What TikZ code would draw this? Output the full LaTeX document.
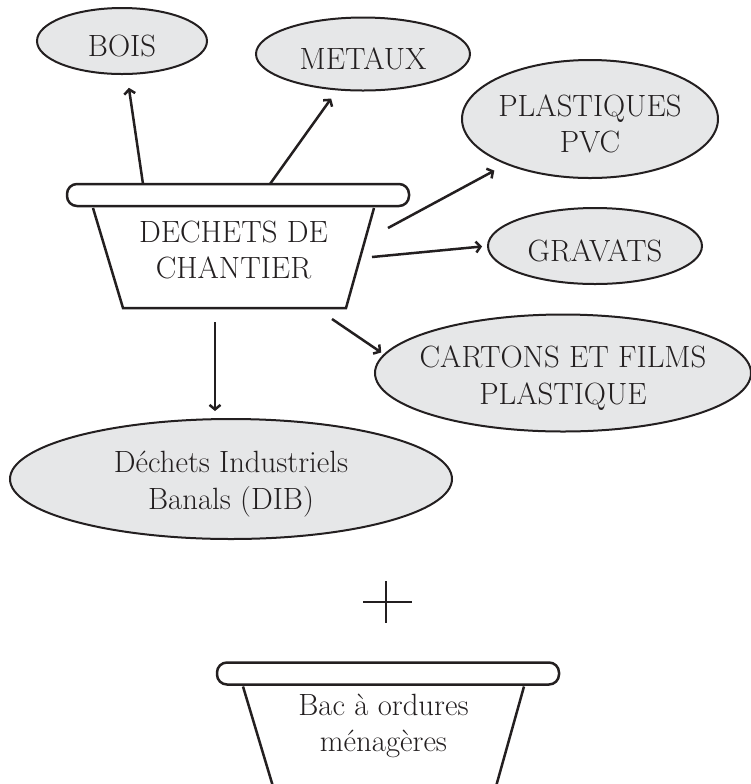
\documentclass[tikz,border=0pt]{standalone}
\usepackage{tikz}
\usetikzlibrary{positioning,shapes.geometric,arrows.meta}

\definecolor{ink}{RGB}{35,31,32}
\definecolor{bubblegray}{RGB}{230,231,232}

\tikzset{
  bubble/.style={ellipse, draw=ink, fill=bubblegray, line width=0.4mm, inner sep=0pt},
  lbl/.style={align=center, text=ink, font=\fontsize{17.5}{20.8}\selectfont, yshift=-1mm},
  bintext/.style={align=center, text=ink, font=\fontsize{17.5}{20.8}\selectfont, inner sep=0pt},
  binline/.style={draw=ink, line width=0.5mm},
  flow/.style={draw=ink, line width=0.5mm, -{Straight Barb[length=0.9mm,width=2.2mm]}},
  bin/.pic={
    \draw[binline, rounded corners=2mm] (-166.5,-66) rectangle (175.5,-44);
    \draw[binline] (-140.5,-42) -- (-110.5,58) -- (112.5,58) -- (140.5,-42);
  }
}

\begin{document}
\begin{tikzpicture}[x=0.2mm, y=-0.2mm]
\useasboundingbox (0,0) rectangle (751,784);

\pic at (233.5,250) {bin};
\node[bintext] (chantier) at (233.5,250) {DECHETS DE\\CHANTIER};

\node[bubble, minimum width=34mm, minimum height=13.2mm, label={[lbl]center:BOIS}] (bois) at (122,41) {};
\node[bubble, minimum width=42.8mm, minimum height=14.6mm, label={[lbl]center:METAUX}] (metaux) at (363,54) {};
\node[bubble, minimum width=51.2mm, minimum height=23.6mm, label={[lbl]center:PLASTIQUES\\PVC}] (pvc) at (590,119) {};
\node[bubble, minimum width=42.8mm, minimum height=15.2mm, label={[lbl]center:GRAVATS}] (gravats) at (595,246) {};
\node[bubble, minimum width=75.2mm, minimum height=23.4mm, label={[lbl]center:CARTONS ET FILMS\\PLASTIQUE}] (cartons) at (563,373) {};
\node[bubble, minimum width=88.4mm, minimum height=24mm, label={[lbl]center:Déchets Industriels\\Banals (DIB)}] (dib) at (231,479) {};

\coordinate (s1) at (143,184);
\coordinate (s2) at (270,184);
\coordinate (s3) at (388,228);
\coordinate (s4) at (372,257);
\coordinate (s5) at (332,319);
\coordinate (s6) at (215,322);

\draw[flow, shorten >=2.6mm] (s1) -- (bois);
\draw[flow, shorten >=2mm] (s2) -- (metaux);
\draw[flow, shorten >=2.6mm] (s3) -- (pvc);
\draw[flow, shorten >=1mm] (s4) -- (gravats.west);
\draw[flow, shorten >=0.6mm] (s5) -- (cartons.174);
\draw[flow, shorten >=1.4mm] (s6) -- (s6 |- dib.north);

\draw[draw=ink, line width=0.4mm] (363,602) -- (412,602) (386,581) -- (386,623);

\pic at (383.5,728.5) {bin};
\node[bintext] (bac) at (383.5,726) {Bac à ordures\\ménagères};
\end{tikzpicture}
\end{document}
